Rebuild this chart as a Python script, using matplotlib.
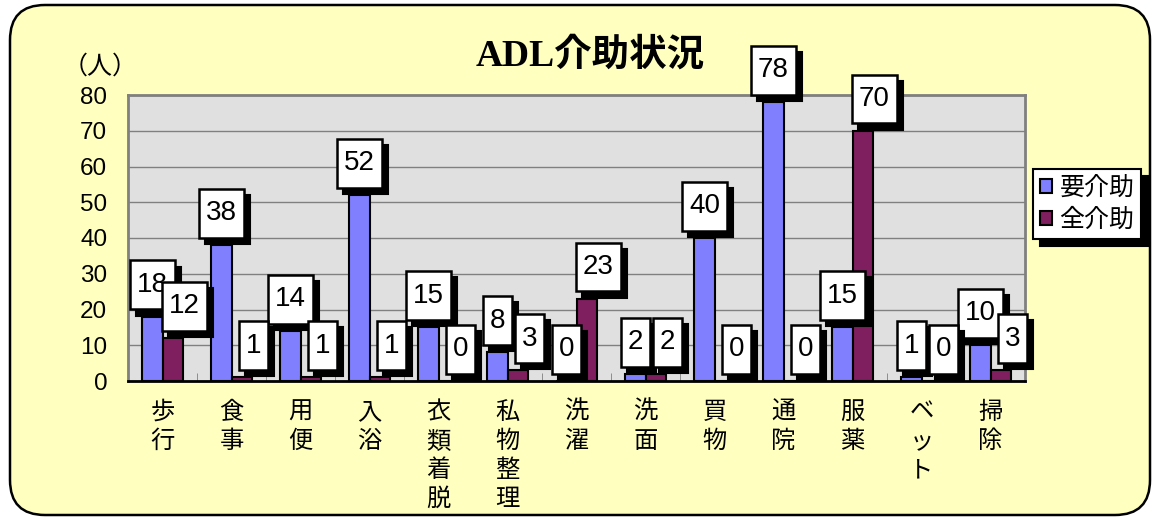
import matplotlib
matplotlib.use("Agg")
import matplotlib.pyplot as plt
import numpy as np
from matplotlib.patches import FancyBboxPatch, Patch

plt.rcParams['font.family'] = ['Noto Sans CJK JP', 'DejaVu Sans']

categories = ["歩行", "食事", "用便", "入浴", "衣類着脱", "私物整理", "洗濯",
              "洗面", "買物", "通院", "服薬", "ベット", "掃除"]
need_help = [18, 38, 14, 52, 15, 8, 0, 2, 40, 78, 15, 1, 10]
full_help = [12, 1, 1, 1, 0, 3, 23, 2, 0, 0, 70, 0, 3]
series_names = ["要介助", "全介助"]
title = "ADL介助状況"
y_unit = "（人）"
yticks = [0, 10, 20, 30, 40, 50, 60, 70, 80]

W, H = 1158, 520
fig = plt.figure(figsize=(W / 100, H / 100), dpi=100)
fig.patch.set_facecolor("white")

# outer rounded frame
frame = FancyBboxPatch((0.1, 0.05), 11.4, 5.1,
                       boxstyle="round,pad=0,rounding_size=0.35",
                       transform=fig.dpi_scale_trans, facecolor="#FFFFC0",
                       edgecolor="black", linewidth=1.8, zorder=-5)
fig.patches.append(frame)

ax = fig.add_axes([128 / W, 1 - 381 / H, (1025 - 128) / W, (381 - 95) / H])
ax.set_facecolor("#E0E0E0")

n = len(categories)
x = np.arange(n)
bw = 0.29
blue = "#8080FF"
purple = "#7F1F5F"
b1 = ax.bar(x - bw / 2, need_help, bw, color=blue, edgecolor="black", linewidth=1.5, zorder=3)
b2 = ax.bar(x + bw / 2, full_help, bw, color=purple, edgecolor="black", linewidth=1.5, zorder=3)

ax.set_xlim(-0.5, n - 0.5)
ax.set_ylim(0, 80)
ax.set_yticks(yticks)
ax.yaxis.grid(True, color="#808080", linewidth=1)
ax.set_axisbelow(True)
ax.tick_params(axis="y", length=0, labelsize=17.5, pad=15)
for lab in ax.get_yticklabels():
    lab.set_family(["Liberation Sans", "DejaVu Sans"])

ax.set_xticks(x)
ax.set_xticklabels(["\n".join(c) for c in categories], fontsize=17.5, linespacing=1.15,
                   va="top")
ax.tick_params(axis="x", length=0, pad=13)
ax.set_xticks(np.arange(-0.5, n, 1.0), minor=True)
ax.tick_params(axis="x", which="minor", direction="in", length=6, color="#808080")

for s in ["top", "right", "left"]:
    ax.spines[s].set_color("#808080")
    ax.spines[s].set_linewidth(2)
ax.spines["bottom"].set_color("black")
ax.spines["bottom"].set_linewidth(2)

# data labels with drop shadow
def label(xpos, val, z, dx):
    common = dict(xy=(xpos, val), textcoords="offset points", ha="center", va="bottom",
                  fontsize=20, family=["Liberation Sans", "DejaVu Sans"])
    ax.annotate(str(val), xytext=(dx + 4.5, 13.5 - 4.5), color="black",
                bbox=dict(boxstyle="square,pad=0.25", mutation_aspect=1.65,
                          fc="black", ec="black", lw=1.5),
                zorder=z, **common)
    ax.annotate(str(val), xytext=(dx, 13.5), color="black",
                bbox=dict(boxstyle="square,pad=0.25", mutation_aspect=1.65,
                          fc="white", ec="black", lw=1.8),
                zorder=z + 0.1, **common)

for i in range(n):
    label(x[i] - bw / 2, need_help[i], 5 + i * 0.01, 0)
for i in range(n):
    label(x[i] + bw / 2, full_help[i], 6 + i * 0.01, 8.5)

fig.text(590 / W, 1 - 56 / H, title, ha="center", va="center", fontsize=27,
         fontweight="bold", family=["Liberation Serif", "Noto Sans CJK JP"])
fig.text(100 / W, 1 - 67 / H, y_unit, ha="center", va="center", fontsize=18)

handles = [Patch(facecolor=blue, edgecolor="black", linewidth=1.5),
           Patch(facecolor=purple, edgecolor="black", linewidth=1.5)]
leg = fig.legend(handles, series_names, loc="center", bbox_to_anchor=(1087 / W, 1 - 204 / H),
                 fontsize=18, frameon=True, fancybox=False, edgecolor="black",
                 framealpha=1, handlelength=0.5, handleheight=0.5, handletextpad=0.3,
                 borderpad=0.25, labelspacing=0.25,
                 shadow={"ox": 5, "oy": -5, "color": "black", "alpha": 1})
leg.get_frame().set_linewidth(1.5)

fig.savefig("out.png", dpi=100)
